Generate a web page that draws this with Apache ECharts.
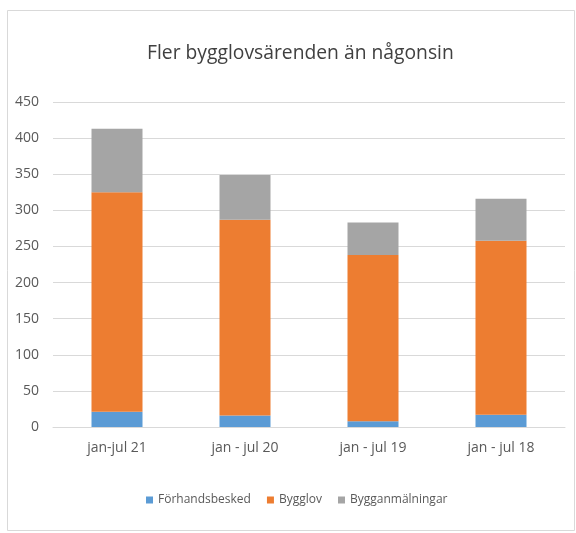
<!DOCTYPE html>
<html>
<head>
<meta charset="utf-8">
<script src="https://cdn.jsdelivr.net/npm/echarts@6/dist/echarts.min.js"></script>
<style>
  html, body { margin: 0; padding: 0; background: #fff; }
  #chart { width: 576px; height: 533px; }
</style>
</head>
<body>
<div id="chart"></div>
<script>
// kategorier och värden
const categories = ['jan-jul 21', 'jan - jul 20', 'jan - jul 19', 'jan - jul 18']
const forhandsbesked = [21, 16, 8, 17]
const bygglov = [304, 271, 230, 241]
const bygganmalningar = [88, 62, 45, 58]

const labelFont = '"Open Sans", sans-serif'

const chart = echarts.init(document.getElementById('chart'))

const option = {
  backgroundColor: '#fff',
  animation: false,
  title: {
    text: 'Fler bygglovsärenden än någonsin',
    left: 142,
    top: 39,
    textStyle: {
      fontFamily: labelFont,
      fontSize: 19.3,
      fontWeight: 'normal',
      color: '#404040'
    }
  },
  // ramen runt diagrammet
  graphic: [
    {
      type: 'rect',
      shape: { x: 7.5, y: 10.5, width: 567, height: 520 },
      style: { fill: 'none', stroke: '#d9d9d9', lineWidth: 1 }
    }
  ],
  legend: {
    bottom: 22,
    left: 141,
    itemWidth: 7,
    itemHeight: 7,
    itemGap: 16,
    icon: 'rect',
    textStyle: { fontFamily: labelFont, fontSize: 12, color: '#595959' }
  },
  grid: {
    left: 53,
    right: 11,
    top: 102,
    bottom: 106
  },
  xAxis: {
    type: 'category',
    data: categories,
    axisTick: { show: false },
    axisLine: { lineStyle: { color: '#d9d9d9' } },
    axisLabel: { fontFamily: labelFont, fontSize: 14, color: '#595959', margin: 14 }
  },
  yAxis: {
    type: 'value',
    min: 0,
    max: 450,
    interval: 50,
    axisLine: { show: false },
    axisTick: { show: false },
    splitLine: { lineStyle: { color: '#d9d9d9' } },
    axisLabel: { fontFamily: labelFont, fontSize: 14, color: '#595959', margin: 14 }
  },
  series: [
    {
      name: 'Förhandsbesked',
      type: 'bar',
      stack: 'total',
      barWidth: 51,
      itemStyle: { color: '#5b9bd5' },
      data: forhandsbesked
    },
    {
      name: 'Bygglov',
      type: 'bar',
      stack: 'total',
      barWidth: 51,
      itemStyle: { color: '#ed7d31' },
      data: bygglov
    },
    {
      name: 'Bygganmälningar',
      type: 'bar',
      stack: 'total',
      barWidth: 51,
      itemStyle: { color: '#a5a5a5' },
      data: bygganmalningar
    }
  ]
}

chart.setOption(option)
</script>
</body>
</html>
